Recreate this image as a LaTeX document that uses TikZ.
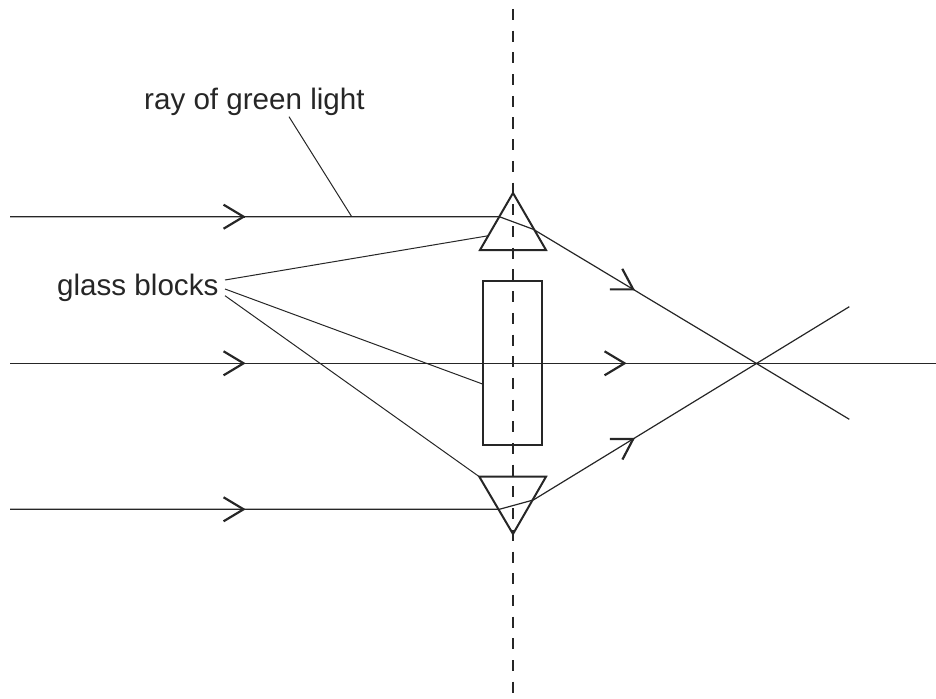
\documentclass[tikz,border=0pt]{standalone}
\usepackage{fontspec}
\setmainfont{Liberation Sans}
\usetikzlibrary{arrows.meta,calc}
\begin{document}
\begin{tikzpicture}[x=1pt,y=-1pt,
  ray/.style={line width=1.2pt, draw=black!85},
  chev/.style={draw=black!85,-{Straight Barb[length=20pt,width=24pt,line width=2.2pt]}},
  block/.style={line width=2pt, draw=black!85, line join=miter},
  leader/.style={line width=1pt, draw=black!85},
  axis/.style={line width=1.3pt, draw=black!85, dash pattern=on 11pt off 10.7pt},
  lbl/.style={font=\fontsize{29.6}{34}\selectfont, inner sep=0pt, anchor=base west, text=black!85}]
\useasboundingbox (0,0) rectangle (936,698);
% axis
\coordinate (ax0) at (513,9);
\coordinate (ax1) at (513,698);
\draw[axis] (ax0) -- (ax1);
% glass blocks
\coordinate (p1) at (513,193);
\coordinate (p2) at (480,250);
\coordinate (p3) at (546,250);
\draw[block] (p1) -- (p2) -- (p3) -- cycle;
\coordinate (r1) at (483.3,281);
\coordinate (r2) at (541.7,445);
\draw[block] (r1) rectangle (r2);
\coordinate (q1) at (479.3,476.7);
\coordinate (q2) at (546,476.7);
\coordinate (q3) at (513,534);
\draw[block] (q1) -- (q2) -- (q3) -- cycle;
% top ray
\coordinate (t0) at (10,216.7);
\coordinate (t1) at (499.3,216.7);
\coordinate (t2) at (533.3,229.3);
\coordinate (t3) at (849.3,419.3);
\coordinate (ta) at (245.7,216.7);
\coordinate (tb) at ($(t2)!0.322!(t3)$);
\draw[ray] (t0) -- (t1) -- (t2) -- (t3);
\draw[chev] ($(ta)!1pt!(t0)$) -- (ta);
\draw[chev] ($(tb)!1pt!(t2)$) -- (tb);
% middle ray
\coordinate (m0) at (10,363.3);
\coordinate (m1) at (936,363.3);
\coordinate (ma) at (245.7,363.3);
\coordinate (mb) at (626.7,363.3);
\draw[ray] (m0) -- (m1);
\draw[chev] ($(ma)!1pt!(m0)$) -- (ma);
\draw[chev] ($(mb)!1pt!(m0)$) -- (mb);
% bottom ray
\coordinate (b0) at (10,509.3);
\coordinate (b1) at (499.3,509.3);
\coordinate (b2) at (533.3,500);
\coordinate (b3) at (849.3,306.7);
\coordinate (ba) at (245.7,509.3);
\coordinate (bb) at ($(b2)!0.322!(b3)$);
\draw[ray] (b0) -- (b1) -- (b2) -- (b3);
\draw[chev] ($(ba)!1pt!(b0)$) -- (ba);
\draw[chev] ($(bb)!1pt!(b2)$) -- (bb);
% labels
\node[lbl] (rgl) at (144,109.5) {ray of green light};
\coordinate (rglp) at (289,116.7);
\coordinate (rgle) at (351.7,216.7);
\draw[leader] (rglp) -- (rgle);
\node[lbl] (gb) at (57,295) {glass blocks};
\coordinate (g1) at (225,280);
\coordinate (g2) at (225,289);
\coordinate (g3) at (225,295.7);
\coordinate (e1) at ($(p1)!0.75!(p2)$);
\coordinate (e2) at (483.3,384.3);
\draw[leader] (g1) -- (e1);
\draw[leader] (g2) -- (e2);
\draw[leader] (g3) -- (q1);
\end{tikzpicture}
\end{document}
